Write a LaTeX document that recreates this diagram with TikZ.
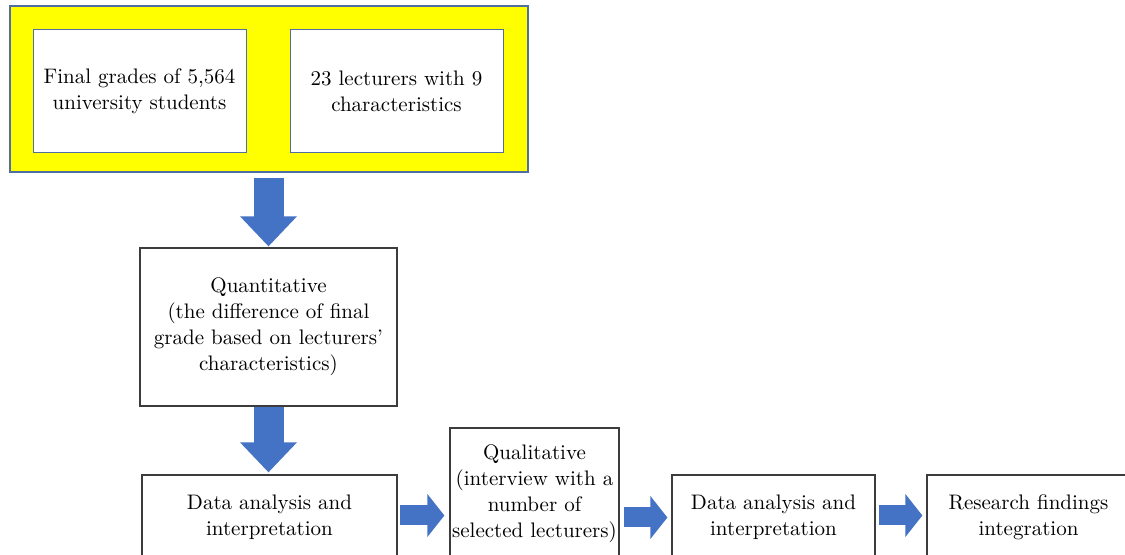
\documentclass[tikz,border=0pt]{standalone}
\usepackage{tikz}
\usetikzlibrary{arrows.meta,positioning}
\usepackage{xcolor}
\definecolor{arrowblue}{RGB}{68,114,196}
\definecolor{edgeblue}{RGB}{80,110,160}
\definecolor{boxgray}{RGB}{60,60,60}
\definecolor{brightyellow}{RGB}{255,255,0}

\begin{document}
\begin{tikzpicture}[x=0.5pt, y=-0.5pt, every node/.style={font=\fontsize{10.5}{13}\selectfont, align=center}]
\tikzset{frame/.style={draw=edgeblue, fill=brightyellow, line width=0.7pt, minimum width=259pt, minimum height=83pt}}
\tikzset{inbox/.style={draw=edgeblue, fill=white, line width=0.5pt, minimum width=106.5pt, minimum height=61.5pt}}
\tikzset{stage/.style={draw=boxgray, fill=white, line width=0.6pt}}
\tikzset{bigarrow/.style={arrowblue, line width=15pt, -{Triangle[width=27.5pt, length=15pt]}}}
\tikzset{smallarrow/.style={arrowblue, line width=10pt, -{Triangle[width=21pt, length=8.5pt]}}}
\useasboundingbox (0,0) rectangle (1125,555);

% Top: data sources
\node[frame] (outer) at (269,89) {};
\node[inbox] (grades) at (139.5,91.5) {Final grades of 5,564\\university students};
\node[inbox] (lect) at (396.5,91.5) {23 lecturers with 9\\characteristics};

% Middle: quantitative stage
\node[stage, minimum width=128.5pt, minimum height=79pt] (quant) at (268.5,327)
  {Quantitative\\(the difference of final\\grade based on lecturers'\\characteristics)};

% Bottom row
\node[stage, minimum width=127.5pt, minimum height=42.5pt] (data1) at (269.5,517.5) {Data analysis and\\interpretation};
\node[stage, inner xsep=1pt, minimum width=84.5pt, minimum height=66pt] (qual) at (534.5,494)
  {Qualitative\\(interview with a\\number of\\selected lecturers)};
\node[stage, minimum width=101.5pt, minimum height=42.5pt] (data2) at (773.5,517.5) {Data analysis and\\interpretation};
\node[stage, minimum width=101.5pt, minimum height=42.5pt] (res) at (1028.5,517.5) {Research findings\\integration};

\draw[bigarrow, shorten <=2.5pt, shorten >=0.5pt] (quant.north |- outer.south) -- (quant.north);
\draw[bigarrow, shorten >=1pt] (quant.south) -- (quant.south |- data1.north);
\draw[smallarrow, shorten <=1pt, shorten >=2.5pt] ([yshift=1pt]data1.east) -- ([yshift=1pt]data1.east -| qual.west);
\draw[smallarrow, shorten <=2pt, shorten >=2pt] (data2.west -| qual.east) -- (data2.west);
\draw[smallarrow, shorten <=1.5pt, shorten >=2pt] ([yshift=1pt]data2.east) -- ([yshift=1pt]res.west);
\end{tikzpicture}
\end{document}
